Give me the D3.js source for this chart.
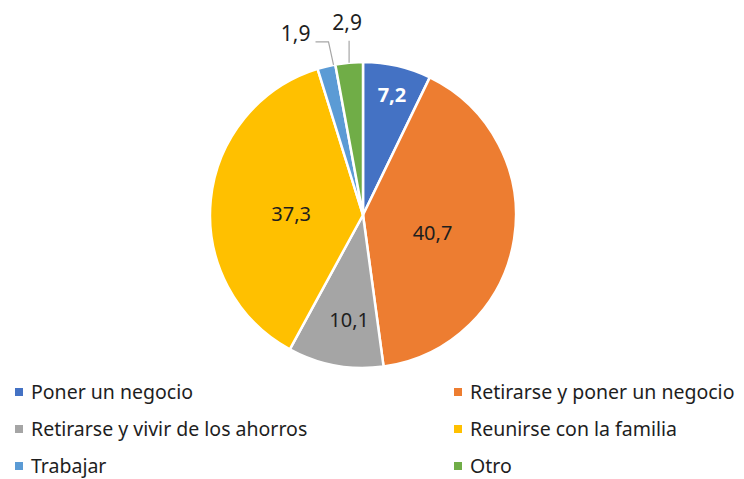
<!DOCTYPE html>
<html><head><meta charset="utf-8">
<script src="https://cdn.jsdelivr.net/npm/d3@7"></script>
<style>body{margin:0;background:#fff}svg{display:block}</style>
</head><body>
<svg id="c" width="744" height="479"></svg>
<script>
const categories = ["Poner un negocio","Retirarse y poner un negocio","Retirarse y vivir de los ahorros","Reunirse con la familia","Trabajar","Otro"];
const values = [7.2, 40.7, 10.1, 37.3, 1.9, 2.9];
const labels = ["7,2","40,7","10,1","37,3","1,9","2,9"];
const colors = ["#4472C4","#ED7D31","#A5A5A5","#FFC000","#5B9BD5","#70AD47"];

const svg = d3.select("#c");
const cx = 363, cy = 215, R = 153;
const font = "'Segoe UI','Noto Sans',sans-serif";
const txt = "#1e1e1e";

const pie = d3.pie().sort(null).value(d => d)(values);
const arc = d3.arc().innerRadius(0).outerRadius(R);
const g = svg.append("g").attr("transform", `translate(${cx},${cy})`);

g.selectAll("path").data(pie).join("path")
  .attr("d", arc).attr("fill", (d,i) => colors[i])
  .attr("stroke", "#fff").attr("stroke-width", 2.5).attr("stroke-linejoin","round");

// inside labels
const inside = [
  {i:0, r:0.81*R, bold:true, color:"#fff", da:0.01},
  {i:1, r:0.47*R, bold:false, color:txt, da:0.10},
  {i:2, r:0.69*R, bold:false, color:txt, da:-0.05},
  {i:3, r:0.47*R, bold:false, color:txt, da:-0.09}
];
inside.forEach(o => {
  const d = pie[o.i];
  const a = (d.startAngle + d.endAngle)/2 + o.da;
  const x = o.r*Math.sin(a), y = -o.r*Math.cos(a);
  g.append("text").attr("x", x).attr("y", y).attr("dy","0.35em")
    .attr("text-anchor","middle").attr("font-family", font).attr("font-size", 20)
    .attr("font-weight", o.bold ? "bold" : "normal").attr("fill", o.color)
    .text(labels[o.i]);
});

// outside labels with leader lines
const pt = (a, r) => [r*Math.sin(a), -r*Math.cos(a)];
{
  const d = pie[4];
  const a = d.startAngle + 0.9*(d.endAngle - d.startAngle);
  const p0 = pt(a, R);
  const line = d3.line();
  g.append("path").attr("d", line([[p0[0], p0[1]], [p0[0]-5, p0[1]-23], [p0[0]-18, p0[1]-23]]))
    .attr("fill","none").attr("stroke","#a6a6a6").attr("stroke-width",1.2);
  g.append("text").attr("x", p0[0]-23).attr("y", p0[1]-31).attr("dy","0.35em")
    .attr("text-anchor","end").attr("font-family", font).attr("font-size", 21).attr("fill", txt)
    .text(labels[4]);
}
{
  const d = pie[5];
  const a = (d.startAngle + d.endAngle)/2;
  const p0 = pt(a, R);
  g.append("line").attr("x1", p0[0]).attr("y1", p0[1]).attr("x2", p0[0]).attr("y2", p0[1]-22)
    .attr("stroke","#a6a6a6").attr("stroke-width",1.2);
  g.append("text").attr("x", p0[0]-2).attr("y", p0[1]-40).attr("dy","0.35em")
    .attr("text-anchor","middle").attr("font-family", font).attr("font-size", 21).attr("fill", txt)
    .text(labels[5]);
}

// legend
const colX = [15, 454], rowY = [392, 429, 466];
categories.forEach((c, i) => {
  const x = colX[i % 2], y = rowY[Math.floor(i / 2)];
  svg.append("rect").attr("x", x).attr("y", y-4).attr("width", 8).attr("height", 8).attr("fill", colors[i]);
  svg.append("text").attr("x", x+16).attr("y", y).attr("dy","0.35em")
    .attr("font-family", font).attr("font-size", 19.5).attr("fill", txt).text(c);
});
</script>
</body></html>
